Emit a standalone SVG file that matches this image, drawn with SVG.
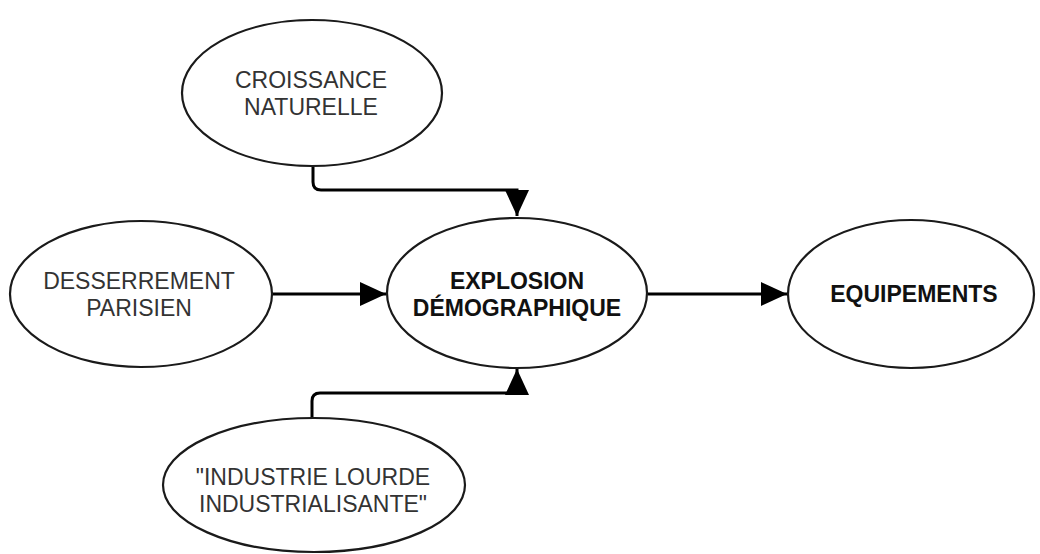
<svg xmlns="http://www.w3.org/2000/svg" width="1040" height="554" viewBox="0 0 1040 554">
<style>
.node ellipse{fill:#fff;stroke:#1a1a1a;stroke-width:2.2}
.node text{font-family:"Liberation Sans",Arial,sans-serif;font-size:23px;fill:#333;text-anchor:middle}
.node text.b{font-weight:bold;fill:#111}
.conn path{fill:none;stroke:#000;stroke-width:3}
</style>
<defs>
<marker id="ah" markerUnits="userSpaceOnUse" markerWidth="26" markerHeight="24" refX="26" refY="12" orient="auto">
<path d="M0,0 L26,12 L0,24 Z" fill="#000"/>
</marker>
</defs>
<rect width="1040" height="554" fill="#fff"/>
<g class="conn">
<path d="M313,167 V182 Q313,190 321,190 H517 V216" marker-end="url(#ah)"/>
<path d="M272,294 H386" marker-end="url(#ah)"/>
<path d="M648,294 H787" marker-end="url(#ah)"/>
<path d="M312,418 V401 Q312,393 320,393 H517 V369" marker-end="url(#ah)"/>
</g>
<g id="croissance" class="node">
<ellipse cx="312" cy="93" rx="130" ry="73"/>
<text x="311" y="88">CROISSANCE</text>
<text x="311" y="115">NATURELLE</text>
</g>
<g id="desserrement" class="node">
<ellipse cx="141" cy="294" rx="131" ry="73"/>
<text x="139" y="289">DESSERREMENT</text>
<text x="139" y="316">PARISIEN</text>
</g>
<g id="explosion" class="node">
<ellipse cx="517" cy="293" rx="130" ry="75"/>
<text class="b" x="517" y="289">EXPLOSION</text>
<text class="b" x="517" y="316">DÉMOGRAPHIQUE</text>
</g>
<g id="equipements" class="node">
<ellipse cx="911" cy="294" rx="123" ry="74"/>
<text class="b" x="914" y="302">EQUIPEMENTS</text>
</g>
<g id="industrie" class="node">
<ellipse cx="314" cy="485" rx="151" ry="67"/>
<text x="313" y="485">"INDUSTRIE LOURDE</text>
<text x="313" y="512">INDUSTRIALISANTE"</text>
</g>
</svg>
